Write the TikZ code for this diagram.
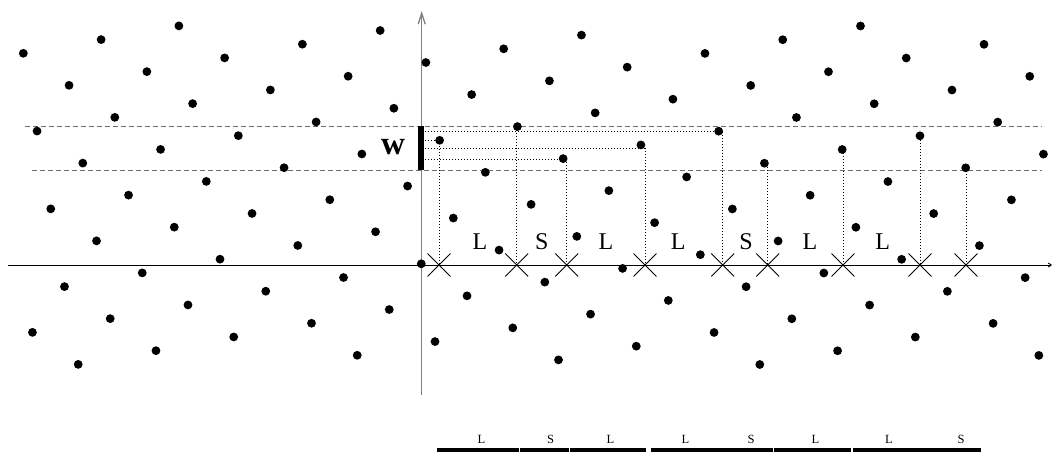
\documentclass[tikz,border=0pt]{standalone}
\usepackage{fontspec}
\setmainfont{Liberation Serif}
\usetikzlibrary{arrows.meta,shapes.misc}
\begin{document}
\begin{tikzpicture}[x=1pt,y=-1pt,
  latticedot/.style={fill=black},
  stripline/.style={gray!85!black,line width=1pt,dash pattern=on 5pt off 3pt},
  projline/.style={black,line width=0.8pt,dash pattern=on 0.9pt off 2.1pt},
  crossmark/.style={cross out,draw=black,line width=0.9pt,minimum size=22pt,inner sep=0pt},
  seglabel/.style={font=\fontsize{24}{24}\selectfont,inner sep=0pt},
  barlabel/.style={font=\fontsize{12.5}{12.5}\selectfont,inner sep=0pt},
  barseg/.style={line width=3.5pt,black}]
\useasboundingbox (0,0) rectangle (1053,452);
% axes
\coordinate (vb) at (421.7,395);
\coordinate (vt) at (421.7,11);
\draw[gray,line width=1.3pt,-{Straight Barb[length=11pt,width=7pt]}] (vb) -- (vt);
\coordinate (hl) at (8,265);
\coordinate (hr) at (1052,265);
\draw[black,line width=0.9pt,-{Straight Barb[length=3pt,width=4pt]}] (hl) -- (hr);
% strip boundaries
\coordinate (t1) at (25,126); \coordinate (t2) at (1042,126);
\coordinate (b1) at (32,170.3); \coordinate (b2) at (1042,170.3);
\draw[stripline] (t1) -- (t2);
\draw[stripline] (b1) -- (b2);
% window
\coordinate (w1) at (421.2,126); \coordinate (w2) at (421.2,170.3);
\draw[black,line width=5.5pt] (w1) -- (w2);
\node[font=\bfseries\fontsize{33}{33}\selectfont,inner sep=0pt] (wl) at (393,147) {w};
% lattice
\foreach \m in {-10,...,13}{
  \foreach \n in {-8,...,11}{
    \pgfmathsetmacro\px{421.3+45.74*\m+32.03*\n}
    \pgfmathsetmacro\py{263.8+32.03*\m-45.74*\n}
    \pgfmathtruncatemacro\ok{((\px>21)&&(\px<1050)&&(\py>23.5)&&(\py<367))?1:0}
    \ifnum\ok=1 \fill[latticedot] (\px,\py) circle (4.4pt);\fi
  }
}
% projections
\foreach \i/\xx/\yy in {1/439/140,2/516.7/126.6,3/566.7/159,4/645/148,5/722.7/131.5,6/767.7/164,7/843/150,8/920/136.5,9/966/168}{
  \node[crossmark] (x\i) at (\xx,265) {};
  \coordinate (p\i) at (\xx,\yy);
  \draw[projline] (p\i) -- (x\i.center);
}
\coordinate (a1) at (425,131.5); \draw[projline] (a1) -- (p5);
\coordinate (a2) at (425,148); \draw[projline] (a2) -- (p4);
\coordinate (a3) at (425,159); \draw[projline] (a3) -- (p3);
\coordinate (a4) at (425,140); \draw[projline] (a4) -- (p1);
% labels on axis
\foreach \i/\xx/\t in {1/480/L,2/541.7/S,3/606/L,4/678.3/L,5/746/S,6/810/L,7/882.7/L}{
  \node[seglabel] (s\i) at (\xx,241.3) {\t};
}
% bottom sequence
\foreach \i/\xa/\xb in {1/437/518.5,2/520.4/569,3/570/646,4/650.5/725,5/725/773,6/774/851,7/853/932,8/932/981.3}{
  \coordinate (ba\i) at (\xa,450.2);
  \coordinate (bb\i) at (\xb,450.2);
  \draw[barseg] (ba\i) -- (bb\i);
}
\foreach \i/\xx/\t in {1/481.5/L,2/550.5/S,3/610.5/L,4/685.5/L,5/751/S,6/815.5/L,7/889/L,8/961/S}{
  \node[barlabel] (bl\i) at (\xx,439) {\t};
}
\end{tikzpicture}
\end{document}
